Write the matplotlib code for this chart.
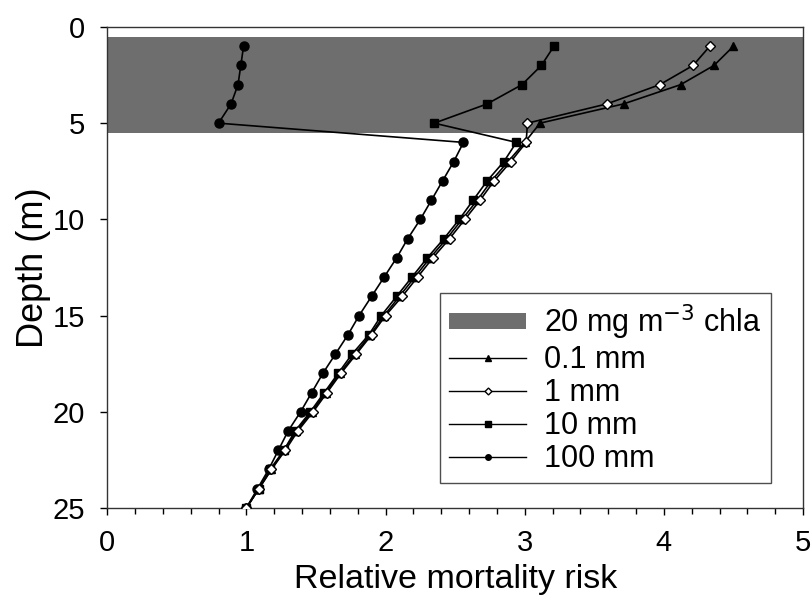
import numpy as np
import matplotlib
matplotlib.use("Agg")
import matplotlib.pyplot as plt
from matplotlib.ticker import MultipleLocator
from matplotlib.patches import Patch

plt.rcParams['font.family'] = ['Liberation Sans', 'DejaVu Sans']

depth = list(range(1, 26))

# relative mortality risk per size class, depth 1..25 m
risk_01mm = [4.50, 4.36, 4.12, 3.71, 3.11,
             3.00, 2.88, 2.76, 2.66, 2.55, 2.44, 2.32, 2.21, 2.10, 1.99,
             1.89, 1.78, 1.67, 1.57, 1.47, 1.36, 1.27, 1.18, 1.09, 1.00]
risk_1mm = [4.33, 4.21, 3.97, 3.59, 3.02,
            3.01, 2.90, 2.78, 2.68, 2.57, 2.46, 2.34, 2.23, 2.12, 2.00,
            1.90, 1.79, 1.68, 1.58, 1.48, 1.37, 1.28, 1.18, 1.09, 1.00]
risk_10mm = [3.21, 3.12, 2.98, 2.73, 2.35,
             2.94, 2.85, 2.73, 2.63, 2.53, 2.42, 2.30, 2.19, 2.08, 1.97,
             1.88, 1.76, 1.66, 1.56, 1.46, 1.35, 1.27, 1.17, 1.09, 1.00]
risk_100mm = [0.98, 0.96, 0.94, 0.89, 0.80,
              2.56, 2.49, 2.41, 2.33, 2.25, 2.16, 2.08, 1.99, 1.90, 1.81,
              1.73, 1.64, 1.55, 1.47, 1.39, 1.30, 1.23, 1.16, 1.08, 1.00]

chla_top, chla_bottom = 0.5, 5.5

fig = plt.figure(figsize=(8.12, 5.99), dpi=100)
ax = fig.add_axes([0.132, 0.152, 0.857, 0.803])

ax.axhspan(chla_top, chla_bottom, color='#6e6e6e', lw=0, zorder=0)

lw = 1.2
ax.plot(risk_01mm, depth, '-', color='black', lw=lw, marker='^', ms=6,
        mfc='black', mec='black', zorder=3)
ax.plot(risk_1mm, depth, '-', color='black', lw=lw, marker='D', ms=5.5,
        mfc='white', mec='black', mew=1.0, zorder=4)
ax.plot(risk_10mm, depth, '-', color='black', lw=lw, marker='s', ms=6,
        mfc='black', mec='black', zorder=3)
ax.plot(risk_100mm, depth, '-', color='black', lw=lw, marker='o', ms=6.5,
        mfc='black', mec='black', zorder=3)

ax.set_xlim(0, 5)
ax.set_ylim(25, 0)
ax.xaxis.set_major_locator(MultipleLocator(1))
ax.xaxis.set_minor_locator(MultipleLocator(0.2))
ax.yaxis.set_major_locator(MultipleLocator(5))
ax.tick_params(axis='both', which='major', direction='out', length=5, width=1,
               labelsize=21)
ax.tick_params(axis='x', which='major', pad=10)
ax.tick_params(axis='y', which='major', pad=11)
ax.tick_params(axis='x', which='minor', direction='out', length=4, width=1)
for s in ax.spines.values():
    s.set_linewidth(1.0)
    s.set_color('#333333')

ax.set_xlabel('Relative mortality risk', fontsize=24.5, labelpad=5)
ax.set_ylabel('Depth (m)', fontsize=26, labelpad=1)

# legend with small markers
handles = [
    Patch(facecolor='#6e6e6e', edgecolor='none'),
    plt.Line2D([], [], color='black', lw=1, marker='^', ms=4, mfc='black'),
    plt.Line2D([], [], color='black', lw=1, marker='D', ms=3.5, mfc='white', mec='black'),
    plt.Line2D([], [], color='black', lw=1, marker='s', ms=4, mfc='black'),
    plt.Line2D([], [], color='black', lw=1, marker='o', ms=4, mfc='black'),
]
labels = ['20 mg m$^{-3}$ chla', '0.1 mm', '1 mm', '10 mm', '100 mm']
leg = ax.legend(handles, labels, loc='lower right', bbox_to_anchor=(0.954, 0.052),
                fontsize=22, frameon=True, fancybox=False, handlelength=2.5,
                handleheight=0.45, labelspacing=0.1, borderpad=0.3,
                handletextpad=0.6, borderaxespad=0)
leg.get_frame().set_edgecolor('#222222')
leg.get_frame().set_linewidth(1.0)

fig.savefig('out.png', dpi=100)
